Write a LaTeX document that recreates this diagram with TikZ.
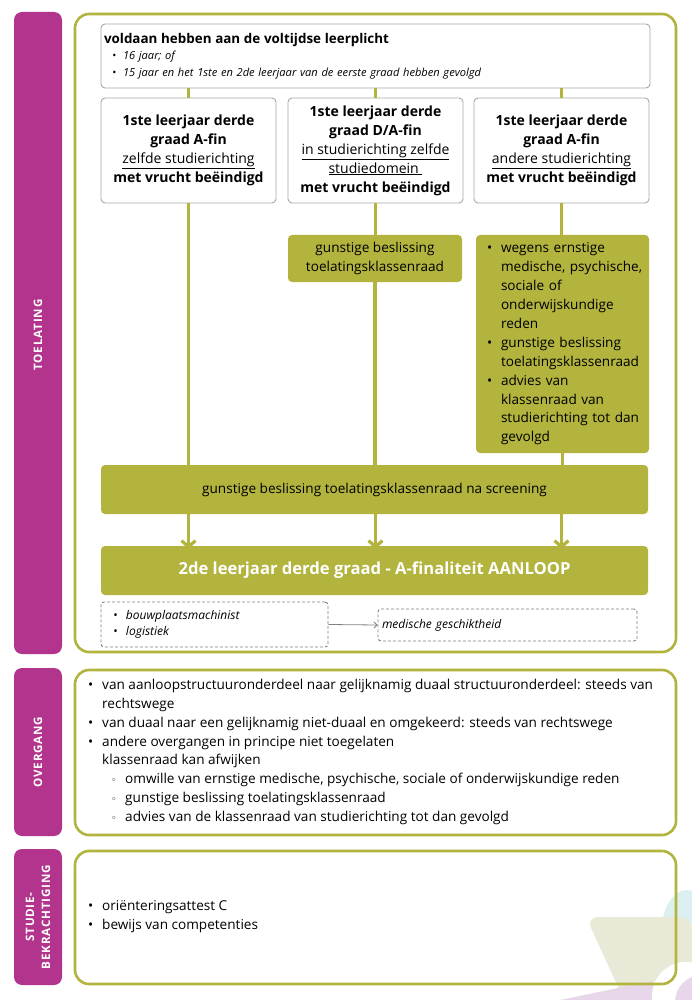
\documentclass[tikz,border=0pt]{standalone}
\usepackage{fontspec}
\setmainfont{Open Sans}
\newfontfamily\sidefont{Open Sans}[LetterSpace=7]
\newfontfamily\dejavu{DejaVu Sans}
\usetikzlibrary{arrows.meta}
\definecolor{oliveg}{RGB}{178,180,62}
\definecolor{magentab}{RGB}{178,52,140}
\definecolor{boxgray}{RGB}{168,168,168}
\definecolor{dashgray}{RGB}{130,130,130}
\definecolor{decocyan}{RGB}{220,240,242}
\definecolor{decoolive}{RGB}{233,233,216}
\definecolor{decopurple}{RGB}{232,214,234}
\newcommand{\bul}{\makebox[14pt][l]{•}}
\newcommand{\subbul}{\makebox[14pt][l]{\raisebox{0.5pt}{\dejavu\fontsize{9.5}{9}\selectfont ◦}}}
\newcommand{\normtext}{\fontsize{13.6}{18.9}\selectfont}
\newcommand{\boxtext}{\fontsize{14}{19}\selectfont}
\tikzset{
  sidebar/.style={fill=magentab, rounded corners=8pt},
  sidelabel/.style={rotate=90, text=white, font=\sidefont\bfseries\fontsize{11.6}{16}\selectfont, align=center, inner sep=0},
  panel/.style={draw=oliveg, line width=2.6pt, rounded corners=14pt},
  wbox/.style={draw=boxgray, line width=0.9pt, fill=white, rounded corners=4pt, inner sep=0},
  gbox/.style={fill=oliveg, rounded corners=4pt, inner sep=0},
  dbox/.style={draw=dashgray, dashed, dash pattern=on 3pt off 2pt, line width=0.9pt, rounded corners=3pt, inner sep=0},
  link/.style={draw=oliveg, line width=3.2pt},
  arr/.style={draw=oliveg, line width=3.2pt, -{Straight Barb[length=6pt,width=14pt]}},
  thinarr/.style={draw=dashgray, line width=0.8pt, -{Straight Barb[length=3pt,width=6pt]}},
  listtext/.style={inner sep=0, align=left, anchor=west, font=\normtext}
}
\begin{document}
\begin{tikzpicture}[x=1pt,y=-1pt]
\useasboundingbox (0,0) rectangle (692,1000);
\fill[white] (0,0) rectangle (692,1000);

% decorations bottom right
\fill[decocyan] (662,925) .. controls (664,900) and (680,886) .. (692,891) -- (692,925) -- cycle;
\fill[decoolive, rounded corners=12pt] (586,917) -- (692,917) -- (692,1000) -- (624,1000) -- cycle;
\fill[decopurple] (560,1000) -- (652,981) -- (660,1000) -- cycle;
\fill[white] (686,996) circle (34);
\fill[decopurple] (702,1002) circle (27);

% side bars
\fill[sidebar] (14,12) rectangle (62,654);
\fill[sidebar] (14,668) rectangle (62,836);
\fill[sidebar] (14,849) rectangle (62,985);
\node[sidelabel] (lt) at (38,335) {TOELATING};
\node[sidelabel] (lo) at (38,752) {OVERGANG};
\node[sidelabel] (ls) at (38,917) {STUDIE-\\BEKRACHTIGING};

% panels
\draw[panel] (75,14) rectangle (676,652);
\draw[panel] (75,670) rectangle (676,835);
\draw[panel] (75,851) rectangle (676,984);

% top box
\node[wbox, minimum width=549pt, minimum height=64pt, text width=543pt, align=left, font=\fontsize{11.1}{16.5}\selectfont] (top) at (375.5,56)
  {{\bfseries\fontsize{13.4}{16.5}\selectfont voldaan hebben aan de voltijdse leerplicht}\\
   {\itshape\hspace*{8pt}\makebox[11pt][l]{•}16 jaar; of}\\
   {\itshape\hspace*{8pt}\makebox[11pt][l]{•}15 jaar en het 1ste en 2de leerjaar van de eerste graad hebben gevolgd}};

% three boxes
\node[wbox, minimum width=175pt, minimum height=105pt, align=center, font=\boxtext] (b1) at (188.5,150.5)
  {\textbf{1ste leerjaar derde}\\\textbf{graad A-fin}\\\underline{zelfde studierichting}\\\textbf{met vrucht beëindigd}};
\node[wbox, minimum width=175pt, minimum height=105pt, align=center, font=\boxtext] (b2) at (375.5,150.5)
  {\textbf{1ste leerjaar derde}\\\textbf{graad D/A-fin}\\\underline{in studierichting zelfde}\\\underline{studiedomein\ }\\\textbf{met vrucht beëindigd}};
\node[wbox, minimum width=175pt, minimum height=105pt, align=center, font=\boxtext] (b3) at (561.5,150.5)
  {\textbf{1ste leerjaar derde}\\\textbf{graad A-fin}\\\underline{andere studierichting}\\\textbf{met vrucht beëindigd}};

% green boxes
\node[gbox, minimum width=174pt, minimum height=47pt, align=center, font=\normtext] (g2) at (375,258.5)
  {gunstige beslissing\\toelatingsklassenraad};
\node[gbox, minimum width=173pt, minimum height=218pt, text width=173pt, align=left, font=\normtext] (g3) at (562.5,344)
  {\hspace*{11pt}\bul wegens ernstige\\
   \hspace*{25pt}medische, psychische,\\
   \hspace*{25pt}sociale of\\
   \hspace*{25pt}onderwijskundige\\
   \hspace*{25pt}reden\\
   \hspace*{11pt}\bul gunstige beslissing\\
   \hspace*{25pt}toelatingsklassenraad\\
   \hspace*{11pt}\bul advies van\\
   \hspace*{25pt}klassenraad van\\
   \hspace*{25pt}studierichting tot dan\\
   \hspace*{25pt}gevolgd};

\node[gbox, minimum width=547pt, minimum height=49pt, font=\normtext] (scr) at (374.5,489.5)
  {gunstige beslissing toelatingsklassenraad na screening};
\node[gbox, minimum width=547pt, minimum height=49pt, text=white, font=\bfseries\fontsize{16.6}{19}\selectfont] (aan) at (374.5,570.5)
  {2de leerjaar derde graad - A-finaliteit AANLOOP};

% dashed boxes
\node[dbox, minimum width=227pt, minimum height=45pt, text width=227pt, align=left, font=\itshape\fontsize{12}{16}\selectfont] (d1) at (214.5,624.5)
  {\hspace*{12pt}\makebox[13pt][l]{•}bouwplaatsmachinist\\\hspace*{12pt}\makebox[13pt][l]{•}logistiek};
\node[dbox, minimum width=259pt, minimum height=32pt, text width=259pt, align=left, font=\itshape\fontsize{12}{16}\selectfont] (d2) at (507.5,625)
  {\hspace*{4pt}medische geschiktheid};

% connectors
\draw[link] (b1.north |- top.south) -- (b1.north);
\draw[link] (b2.north |- top.south) -- (b2.north);
\draw[link] (b3.north |- top.south) -- (b3.north);
\draw[link] (b1.south) -- (b1.south |- scr.north);
\draw[link] (b2.south) -- (b2.south |- g2.north);
\draw[link] (g2.south) -- (g2.south |- scr.north);
\draw[link] (b3.south) -- (b3.south |- g3.north);
\draw[link] (g3.south) -- (g3.south |- scr.north);
\draw[arr] (scr.south -| b1) -- ([yshift=-3pt]aan.north -| b1);
\draw[arr] (scr.south -| b2) -- ([yshift=-3pt]aan.north -| b2);
\draw[arr] (scr.south -| b3) -- ([yshift=-3pt]aan.north -| b3);
\draw[thinarr] (d1.east) -- (d2.west);

% overgang text
\node[listtext] (ov) at (88,752)
  {\bul van aanloopstructuuronderdeel naar gelijknamig duaal structuuronderdeel: steeds van\\
   \hspace*{14pt}rechtswege\\
   \bul van duaal naar een gelijknamig niet-duaal en omgekeerd: steeds van rechtswege\\
   \bul andere overgangen in principe niet toegelaten\\
   \hspace*{14pt}klassenraad kan afwijken\\
   \hspace*{23pt}\subbul omwille van ernstige medische, psychische, sociale of onderwijskundige reden\\
   \hspace*{23pt}\subbul gunstige beslissing toelatingsklassenraad\\
   \hspace*{23pt}\subbul advies van de klassenraad van studierichting tot dan gevolgd};

% studiebekrachtiging text
\node[listtext] (sb) at (88,917)
  {\bul oriënteringsattest C\\
   \bul bewijs van competenties};
\end{tikzpicture}
\end{document}
